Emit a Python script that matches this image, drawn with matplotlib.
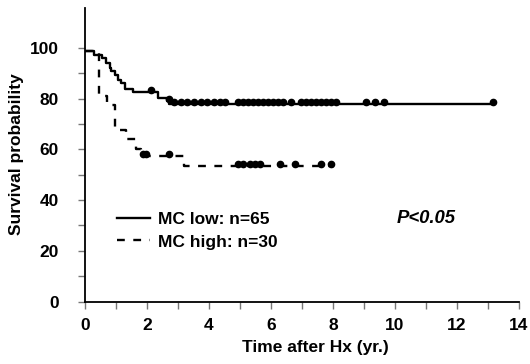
import numpy as np
import matplotlib
matplotlib.use("Agg")
import matplotlib.pyplot as plt
from matplotlib.lines import Line2D
from matplotlib.transforms import offset_copy

plt.rcParams['font.family'] = ['Liberation Sans', 'DejaVu Sans']

# Kaplan-Meier step data (time in years, survival %)
low_times = [0, 0.29, 0.56, 0.69, 0.80, 0.85, 0.96, 1.06, 1.17, 1.28, 1.54, 2.34, 2.66, 2.72]
low_surv = [99, 97.4, 96, 94, 92, 91, 89.5, 87.5, 86.2, 84, 82.5, 80.3, 79, 78]
low_end = 13.17
low_censor = [2.13, 2.70, 2.88, 3.09, 3.30, 3.51, 3.73, 3.94, 4.15, 4.37, 4.53, 4.95, 5.11,
              5.27, 5.43, 5.59, 5.75, 5.91, 6.07, 6.23, 6.39, 6.66, 6.97, 7.13, 7.29,
              7.45, 7.61, 7.77, 7.93, 8.09, 9.05, 9.37, 9.64, 13.17]

high_times = [0, 0.45, 0.71, 0.96, 1.33, 1.65, 1.81, 3.19]
high_surv = [99, 81, 77.7, 67.8, 64, 60, 57.5, 53.6]
high_end = 8.04
high_censor = [1.88, 1.98, 2.72, 4.95, 5.11, 5.33, 5.49, 5.64, 6.28, 6.76, 7.61, 7.93]

labels = ["MC low: n=65", "MC high: n=30"]
x_ticks = [0, 2, 4, 6, 8, 10, 12, 14]
y_ticks = [0, 20, 40, 60, 80, 100]

FS = 12.5

fig = plt.figure(figsize=(5.3, 3.64), dpi=100)
ax = fig.add_axes([85/530, (364-301.5)/364, 434/530, 294/364])

def surv_at(times, surv, t):
    idx = np.searchsorted(np.array(times), np.array(t), side='right') - 1
    return np.array(surv)[idx]

dash = (3.3, 3.6)
ax.step(low_times + [low_end], low_surv + [low_surv[-1]], where='post', color='black', lw=1.7)
ax.step(high_times + [high_end], high_surv + [high_surv[-1]], where='post', color='black',
        lw=1.7, linestyle=(0, dash))

tr = offset_copy(ax.transData, fig=fig, y=1.5, units='points')
ax.plot(low_censor, surv_at(low_times, low_surv, low_censor), 'o', color='black', ms=4.5, transform=tr)
ax.plot(high_censor, surv_at(high_times, high_surv, high_censor), 'o', color='black', ms=4.5, transform=tr)

ax.set_xlim(0, 14)
ax.set_ylim(0, 116)
ax.spines['top'].set_visible(False)
ax.spines['right'].set_visible(False)
for s in ['left', 'bottom']:
    ax.spines[s].set_linewidth(1.3)

ax.set_xticks(x_ticks)
ax.set_xticks(np.arange(1, 14, 2), minor=True)
ax.set_yticks(y_ticks)
ax.set_yticks(np.arange(10, 110, 20), minor=True)
ax.tick_params(axis='both', which='both', direction='out', length=5, width=1, color='#777777')
ax.tick_params(axis='y', which='major', pad=14, labelsize=FS)
ax.tick_params(axis='x', which='major', pad=7, labelsize=FS)
for lab in ax.get_xticklabels() + ax.get_yticklabels():
    lab.set_fontweight('bold')

ax.set_xlabel("Time after Hx (yr.)", fontsize=FS, fontweight='bold')
ax.xaxis.set_label_coords(0.53, -0.158)
ax.xaxis.label.set_va('center')
ax.set_ylabel("Survival probability", fontsize=FS, fontweight='bold', labelpad=4)

handles = [Line2D([], [], color='black', lw=1.7),
           Line2D([], [], color='black', lw=1.7, linestyle=(0, dash))]
leg = ax.legend(handles, labels, loc='center left', bbox_to_anchor=(0.074, 0.2415),
                frameon=False, borderpad=0, borderaxespad=0, handlelength=1.9,
                handletextpad=0.45, labelspacing=0.45,
                prop={'size': FS, 'weight': 'bold'})

ax.text(0.719, 0.284, "P<0.05", transform=ax.transAxes, fontsize=13.3, fontweight='bold',
        fontstyle='italic', va='center', ha='left')

fig.savefig("out.png", dpi=100)
